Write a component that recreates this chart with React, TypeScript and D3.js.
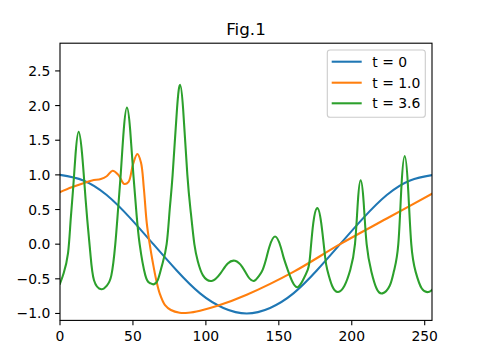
import React from "react";
import * as d3 from "d3";

const title = "Fig.1";
const seriesNames = ["t = 0", "t = 1.0", "t = 3.6"];
const seriesColors = ["#1f77b4", "#ff7f0e", "#2ca02c"];

const xTicks = [0, 50, 100, 150, 200, 250];
const yTicks = [-1.0, -0.5, 0.0, 0.5, 1.0, 1.5, 2.0, 2.5];

const blueX = [0, 16, 32, 48, 64, 80, 96, 112, 128, 144, 160, 176, 192, 208, 224, 240, 256];
const blueY = [1.0, 0.92, 0.71, 0.38, 0.0, -0.38, -0.71, -0.92, -1.0, -0.92, -0.71, -0.38, 0.0, 0.38, 0.71, 0.92, 1.0];

const orangeX = [0, 8, 16, 22, 28, 32, 36, 40, 44, 47, 50, 53, 55.5, 57.5, 59.5, 61.5, 63.5, 66, 68.5, 72, 76, 82, 88, 96, 108, 128, 160, 192, 224, 256];
const orangeY = [0.75, 0.82, 0.88, 0.92, 0.94, 0.98, 1.06, 1.0, 0.87, 0.9, 1.15, 1.3, 1.18, 0.8, 0.3, 0.0, -0.25, -0.52, -0.72, -0.88, -0.95, -0.99, -0.99, -0.96, -0.89, -0.73, -0.4, 0.0, 0.37, 0.74];

const greenX = [
  0, 2.5, 5.5, 7.3, 9.1, 10.7, 12.8, 15.1, 16.9, 18.7, 20.8, 23.3, 28.3,
  32, 35.2, 37.9, 39.8, 41.6, 43.7, 45.9, 48.1, 50.3, 52.4, 54.6, 58.5, 61.5,
  64, 67, 70, 73.1, 75.2, 77.2, 80.2, 82.3, 84.4, 87.3, 89.7, 92.1, 94.5, 98,
  104, 110, 115, 120, 125, 129,
  133, 136, 138.9, 141.7, 143.5, 147.4, 151.3, 153.1, 156.1, 159.5,
  162.9, 166.5, 169.8, 171.4, 173.6, 176.4, 179.1, 181.7, 183.2, 186.5,
  190.6, 195, 199, 202.2, 204.2, 206.1, 208.1, 210.2, 213.5, 217,
  221, 226, 229, 231.9, 234.1, 236.3, 238.5, 240.8, 243.8, 248, 252.5, 255,
];
const greenY = [
  -0.57, -0.42, -0.13, 0.35, 0.83, 1.31, 1.62, 1.31, 0.83, 0.35, -0.13, -0.52, -0.65,
  -0.6, -0.45, 0.0, 0.5, 1.0, 1.65, 1.97, 1.65, 1.0, 0.45, 0.0, -0.45, -0.56,
  -0.58, -0.52, -0.3, 0.0, 0.5, 1.0, 1.95, 2.3, 1.95, 1.0, 0.45, 0.0, -0.25, -0.45,
  -0.53, -0.42, -0.28, -0.24, -0.33, -0.47,
  -0.53, -0.47, -0.37, -0.18, -0.04, 0.11, -0.04, -0.18, -0.37, -0.55,
  -0.62, -0.52, -0.37, -0.18, 0.3, 0.52, 0.3, -0.18, -0.37, -0.6,
  -0.69, -0.6, -0.37, 0.0, 0.62, 0.92, 0.62, 0.0, -0.4, -0.64,
  -0.71, -0.6, -0.38, 0.0, 0.85, 1.27, 0.85, 0.0, -0.4, -0.64, -0.69, -0.66,
];

const W = 480;
const H = 360;
const left = 60;
const right = 432;
const top = 43.2;
const bottom = 320.4;
const font = "DejaVu Sans, sans-serif";

function fmt(v: number) {
  const s = v.toFixed(1);
  return s.startsWith("-") ? "\u2212" + s.slice(1) : s;
}

export default function App() {
  const x = d3.scaleLinear().domain([0, 255]).range([left, right]);
  const y = d3.scaleLinear().domain([-1.1, 2.9]).range([bottom, top]);

  const mk = (xs: number[], ys: number[], curve: any) =>
    d3
      .line<number>()
      .x((_, i) => x(xs[i]))
      .y((d) => y(d))
      .curve(curve)(ys) || "";

  const paths = [
    mk(blueX, blueY, d3.curveNatural),
    mk(orangeX, orangeY, d3.curveCatmullRom.alpha(0.5)),
    mk(greenX, greenY, d3.curveNatural),
  ];

  const tickLen = 4.86;
  const legX = 327.3;
  const legY = 50;
  const legW = 98;
  const legH = 67.3;
  const rowY = [61.7, 82.7, 103.3];

  return (
    <svg width={W} height={H} style={{ position: "absolute", left: 0, top: 0, background: "#fff" }}>
      <defs>
        <clipPath id="plotclip">
          <rect x={left} y={top} width={right - left} height={bottom - top} />
        </clipPath>
      </defs>
      <rect x={0} y={0} width={W} height={H} fill="#fff" />
      <g clipPath="url(#plotclip)">
        {paths.map((p, i) => (
          <path key={i} d={p} fill="none" stroke={seriesColors[i]} strokeWidth={2.08} strokeLinejoin="round" strokeLinecap="square" />
        ))}
      </g>
      <rect x={left} y={top} width={right - left} height={bottom - top} fill="none" stroke="#000" strokeWidth={1.1} />
      {xTicks.map((t) => (
        <g key={"x" + t}>
          <line x1={x(t)} x2={x(t)} y1={bottom} y2={bottom + tickLen} stroke="#000" strokeWidth={1.1} />
          <text x={x(t)} y={bottom + 20.5} textAnchor="middle" fontFamily={font} fontSize={13.9} fill="#000">
            {String(t)}
          </text>
        </g>
      ))}
      {yTicks.map((t) => (
        <g key={"y" + t}>
          <line x1={left - tickLen} x2={left} y1={y(t)} y2={y(t)} stroke="#000" strokeWidth={1.1} />
          <text x={left - 2 * tickLen} y={y(t) + 5} textAnchor="end" fontFamily={font} fontSize={13.9} fill="#000">
            {fmt(t)}
          </text>
        </g>
      ))}
      <text x={(left + right) / 2} y={35} textAnchor="middle" fontFamily={font} fontSize={16.7} fill="#000">
        {title}
      </text>
      <rect x={legX} y={legY} width={legW} height={legH} rx={2.8} fill="#fff" fillOpacity={0.8} stroke="#cccccc" strokeWidth={1.1} />
      {seriesNames.map((n, i) => (
        <g key={n}>
          <line x1={331.7} x2={361.7} y1={rowY[i]} y2={rowY[i]} stroke={seriesColors[i]} strokeWidth={2.08} />
          <text x={372.3} y={rowY[i] + 5} fontFamily={font} fontSize={13.9} fill="#000">
            {n}
          </text>
        </g>
      ))}
    </svg>
  );
}
